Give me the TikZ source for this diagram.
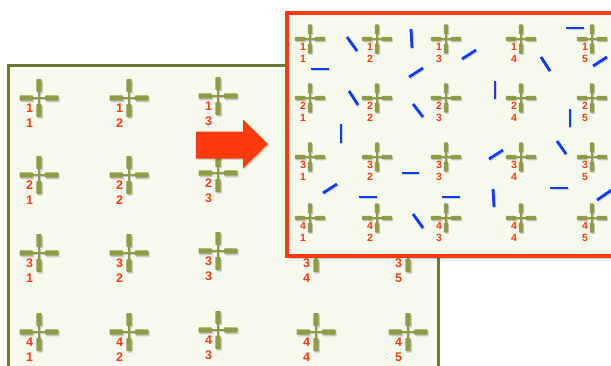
\documentclass[tikz,border=0pt]{standalone}
\usepackage{fontspec}
\setmainfont{Liberation Sans}
\usetikzlibrary{calc}
\definecolor{crossGreen}{HTML}{8E9D45}
\definecolor{panelFill}{HTML}{F5FAEC}
\definecolor{panelEdge}{HTML}{6C7A36}
\definecolor{alertRed}{HTML}{FF3A0E}
\definecolor{strokeBlue}{HTML}{0A3BFF}

\begin{document}
\begin{tikzpicture}[
    x=1pt, y=-1pt,
    every node/.style={text=alertRed, inner sep=0pt},
    lblBack/.style={font=\fontsize{12.5}{13}\selectfont\bfseries},
    lblFront/.style={font=\fontsize{10.5}{11}\selectfont\bfseries},
    panelBack/.style={fill=panelFill, draw=panelEdge, line width=3pt},
    panelFront/.style={fill=panelFill, draw=alertRed, line width=3.2pt},
    seg/.style={draw=strokeBlue, line width=2.8pt},
    segShadow/.style={draw=black, opacity=.15, line width=2.8pt},
    pics/target/.style={code={
      \foreach \dx/\dy/\col in {1.2/1.6/black!22, 0/0/crossGreen}{
        \begin{scope}[shift={(\dx,\dy)}]
          \fill[\col, rounded corners=0.8pt] (-19.5,-2.7) rectangle (-6,2.7) (6,-2.7) rectangle (19.5,2.7)
            (-2.7,-19) rectangle (2.7,-6) (-2.7,6) rectangle (2.7,19);
          \draw[\col, line width=1.3pt] (-6,0) -- (6,0) (0,-6) -- (0,6);
        \end{scope}
      }
    }}
  ]
    \useasboundingbox (0,0) rectangle (611,365);
    \fill[white] (0,0) rectangle (611,365);

    % back grid (rows 1-2 of columns 4-5 lie under the front panel)
    \draw[panelBack] (8,65) rectangle (438,400);
    \foreach \r/\y in {1/98,2/175,3/253,4/332}
      \foreach \c/\x/\dy in {1/39/0,2/129/0,3/218/-2,4/316/0,5/408/0}{
        \pgfmathtruncatemacro\hidden{and(\r<3,\c>3)}
        \ifnum\hidden=0
          \pic at (\x,\y+\dy) {target};
          \node[lblBack] (bu\r\c) at (\x-9.5,\y+\dy+10.5) {\r};
          \node[lblBack] (bl\r\c) at (\x-9.5,\y+\dy+25.5) {\c};
        \fi
      }

    % big arrow
    \fill[black, opacity=.15] (197.5,133) -- (244.5,133) -- (244.5,121) -- (269.5,145.5) -- (244.5,170) -- (244.5,160) -- (197.5,160) -- cycle;
    \fill[alertRed] (196,131.5) -- (243,131.5) -- (243,119.5) -- (268,144) -- (243,168.5) -- (243,158.5) -- (196,158.5) -- cycle;

    % front grid
    \fill[black, opacity=.15] (290,16) rectangle (628,259);
    \draw[panelFront] (287,13) rectangle (625,256);
    \foreach \r/\y in {1/39,2/98,3/157,4/218}
      \foreach \c/\x in {1/310,2/377,3/446,4/521,5/592}{
        \pic[scale=.77] at (\x,\y) {target};
        \node[lblFront] (fu\r\c) at (\x-7,\y+7.5) {\r};
        \node[lblFront] (fl\r\c) at (\x-7,\y+20) {\c};
      }

    % blue strokes
    \foreach \xa/\ya/\xb/\yb in {347/37/357/51, 411/29/412/48, 311/69/329/69, 409/77/423/68,
        349/91/358/105, 413/104/423/117, 341/124/341/143, 462/59/476/50, 566/28/584/28,
        541/57/550/71, 593/66/607/57, 495/81/495/99, 570/109/570/127, 402/173/419/173,
        323/193/337/184, 359/197/377/197, 413/214/423/228, 442/197/460/197, 489/159/503/150,
        557/141/566/154, 550/188/568/188, 493/189/494/207, 597/200/613/189}{
      \draw[segShadow] (\xa+0.8,\ya+1) -- (\xb+0.8,\yb+1);
      \draw[seg] (\xa,\ya) -- (\xb,\yb);
    }
  \end{tikzpicture}
\end{document}
